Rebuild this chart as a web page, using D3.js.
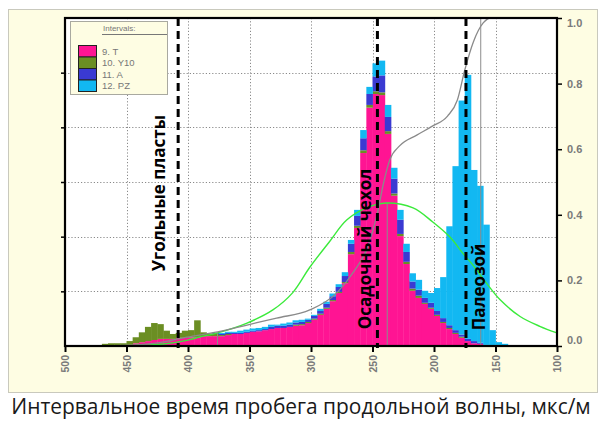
<!DOCTYPE html>
<html><head><meta charset="utf-8">
<script src="https://cdn.jsdelivr.net/npm/d3@7"></script>
<style>body{margin:0;background:#fff}svg{display:block}</style>
</head><body>
<svg id="c" width="601" height="421"></svg>
<script>
// ---------- DATA ----------
const binWidth = 5;
const binStart = [465,460,455,450,445,440,435,430,425,420,415,410,405,400,395,390,385,380,375,370,365,360,355,350,345,340,335,330,325,320,315,310,305,300,295,290,285,280,275,270,265,260,255,250,245,240,235,230,225,220,215,210,205,200,195,190,185,180,175,170,165,160,155,150,145,140];
const seriesNames = ["9. T","10. Y10","11. A","12. PZ"];
const pinkT   = [0,0,0,0,2,5,7,9,11,13, 13,13,15,15,16,16,18,18,18,18, 20,22,22,24,26,27,29,31,33,33, 35,37,38,42,48,57,68,82,97,115, 168,216,353,436,461,459,388,275,201,150, 101,88,77,68,55,42,31,22,15,9, 5,4,0,0,0,0];
const oliveY10= [4,5,5,5,7,11,18,26,31,27, 15,9,9,13,13,31,7,5,4,2, 2,0,0,0,0,0,0,0,0,0, 0,2,2,2,2,2,2,2,2,2, 4,4,5,5,5,5,5,4,4,4, 4,4,2,2,2,2,2,2,2,0, 0,0,0,0,0,0];
const blueA   = [0,0,0,0,0,0,0,0,0,0, 0,0,0,0,0,0,0,0,2,2, 2,2,2,2,2,2,2,4,4,4, 4,4,4,4,5,5,7,7,9,11, 15,18,22,20,27,31,26,27,26,18, 13,11,9,9,7,7,5,5,4,4, 4,2,2,0,0,0];
const cyanPZ  = [0,0,0,0,0,0,0,0,0,0, 0,0,0,0,0,0,0,0,0,2, 2,2,4,4,4,4,4,4,2,4, 4,4,4,2,2,4,4,5,5,7, 7,11,15,13,24,27,22,20,18,15, 15,18,13,18,42,75,181,300,428,483, 313,287,220,29,7,4];

const fitV = [460,440,420,400,390,376,352,331,315,301,285,271,255,239,217,201,187,176,168,157,146,130,114,100];
const fitP = [0.000,0.002,0.006,0.018,0.028,0.040,0.070,0.110,0.162,0.240,0.318,0.384,0.421,0.436,0.421,0.378,0.332,0.280,0.245,0.190,0.140,0.090,0.060,0.040];
const cumV = [470,440,423,401,376,352,328,301,279,266,254,246,241,236,228,214,201,189,181,175,168,160,154,100];
const cumP = [0.000,0.004,0.010,0.027,0.043,0.064,0.085,0.110,0.162,0.223,0.302,0.405,0.497,0.567,0.610,0.643,0.671,0.701,0.750,0.841,0.927,0.985,1.000,1.000];
const markerV = [376,238,162];
const markerP = [0.040,0.436,1.0];
const zoneV = [408,246,174];
const zoneNames = ["Угольные пласты","Осадочный чехол","Палеозой"];
const xTickValues = [500,450,400,350,300,250,200,150,100];
const rightTicks = [0,0.2,0.4,0.6,0.8,1.0];
const leftTicks = [100,200,300,400,500];
const xTitle = "Интервальное время пробега продольной волны, мкс/м";

// ---------- LAYOUT ----------
const M = {l:65, r:557, t:18, b:346};
const colors = ["#FF1493","#6B8E23","#3A3AD2","#12B8F2"];
const svg = d3.select("#c");
const x = d3.scaleLinear().domain([500,100]).range([M.l,M.r]);
const yL = d3.scaleLinear().domain([0,600]).range([M.b,M.t]);
const yR = d3.scaleLinear().domain([0,1]).range([M.b,M.t]);

// panel
svg.append("rect").attr("x",8.5).attr("y",9.5).attr("width",589).attr("height",383)
  .attr("fill","#FEFDE3").attr("stroke","#c9c9bd");
svg.append("rect").attr("x",M.l).attr("y",M.t).attr("width",M.r-M.l).attr("height",M.b-M.t).attr("fill","#fff");

// grid
const grid = svg.append("g").attr("stroke","#8a8a8a").attr("stroke-dasharray","1.2,2").attr("stroke-width",1);
grid.selectAll("line.v").data(xTickValues.filter(d=>d<500&&d>100)).join("line")
  .attr("x1",d=>Math.round(x(d))+0.5).attr("x2",d=>Math.round(x(d))+0.5).attr("y1",M.t).attr("y2",M.b);
grid.selectAll("line.h").data(leftTicks).join("line")
  .attr("y1",d=>Math.round(yL(d))+0.5).attr("y2",d=>Math.round(yL(d))+0.5).attr("x1",M.l).attr("x2",M.r);

// bars
const keys = ["T","Y10","A","PZ"];
const rows = binStart.map((v,i)=>({v, T:pinkT[i], Y10:oliveY10[i], A:blueA[i], PZ:cyanPZ[i]}));
const stacked = d3.stack().keys(keys)(rows);
svg.append("g").selectAll("g").data(stacked).join("g")
  .attr("fill",(d,i)=>colors[i])
  .selectAll("rect").data(d=>d.filter(s=>s[1]>s[0])).join("rect")
  .attr("x",d=>x(d.data.v+binWidth))
  .attr("width",d=>x(d.data.v)-x(d.data.v+binWidth)+0.4)
  .attr("y",d=>yL(d[1]))
  .attr("height",d=>yL(d[0])-yL(d[1]));

// marker lines
svg.append("g").selectAll("line").data(markerV).join("line")
  .attr("x1",d=>x(d)).attr("x2",d=>x(d)).attr("y1",M.b).attr("y2",(d,i)=>yR(markerP[i]))
  .attr("stroke","#8c8c8c").attr("stroke-width",1);

// fit curve
svg.append("path").datum(fitV.map((v,i)=>[v,fitP[i]]))
  .attr("d",d3.line().x(d=>x(d[0])).y(d=>yR(d[1])).curve(d3.curveCatmullRom))
  .attr("fill","none").attr("stroke","#3BEA3B").attr("stroke-width",1.4);
// cumulative
svg.append("path").datum(cumV.map((v,i)=>[v,cumP[i]]))
  .attr("d",d3.line().x(d=>x(d[0])).y(d=>yR(d[1])).curve(d3.curveMonotoneX))
  .attr("fill","none").attr("stroke","#8a8a8a").attr("stroke-width",1.3);

// zone dashed lines
svg.append("g").selectAll("line").data(zoneV).join("line")
  .attr("x1",d=>x(d)).attr("x2",d=>x(d)).attr("y1",M.t).attr("y2",M.b+2)
  .attr("stroke","#000").attr("stroke-width",3).attr("stroke-dasharray","8,5");

// zone labels (rotated)
const zoneLab = [{v:423.5,y:193},{v:256,y:249},{v:163.4,y:287}];
svg.append("g").selectAll("text").data(zoneNames).join("text")
  .attr("transform",(d,i)=>`translate(${x(zoneLab[i].v)},${zoneLab[i].y}) rotate(-90)`)
  .attr("text-anchor","middle").attr("dy","0.35em")
  .attr("font-family","'Open Sans', 'Noto Sans', sans-serif").attr("font-weight","bold")
  .attr("font-size",17).attr("fill","#000").text(d=>d);

// axes
const axB = svg.append("g").attr("transform",`translate(0,${M.b})`)
  .call(d3.axisBottom(x).tickValues(xTickValues).tickSize(6).tickFormat(d3.format("d")));
axB.select(".domain").remove();
axB.selectAll(".tick line").attr("stroke","#000").attr("stroke-width",2);
axB.selectAll(".tick text").attr("transform","rotate(-90)").attr("text-anchor","end")
  .attr("x",-9).attr("y",0).attr("dy","0.35em")
  .attr("font-family","'Liberation Sans', Arial, sans-serif").attr("font-size",10.5).attr("font-weight","bold").attr("fill","#7a7a7a");

const axL = svg.append("g").attr("transform",`translate(${M.l},0)`)
  .call(d3.axisLeft(yL).tickValues(leftTicks).tickSize(4).tickFormat(""));
axL.select(".domain").remove();
axL.selectAll(".tick line").attr("stroke","#000").attr("stroke-width",1.5);

const axR = svg.append("g").attr("transform",`translate(${M.r},0)`)
  .call(d3.axisRight(yR).tickValues(rightTicks).tickSize(5).tickFormat(d3.format(".1f")));
axR.select(".domain").remove();
axR.selectAll(".tick line").attr("stroke","#000").attr("stroke-width",1.5);
axR.selectAll(".tick text").attr("x",10)
  .attr("font-family","'Liberation Sans', Arial, sans-serif").attr("font-size",11).attr("font-weight","bold").attr("fill","#7a7a7a")
  .attr("dy",d=>d===0?"-0.25em":(d===1?"0.75em":"0.32em"));

// frame
svg.append("rect").attr("x",M.l).attr("y",M.t).attr("width",M.r-M.l).attr("height",M.b-M.t)
  .attr("fill","none").attr("stroke","#000").attr("stroke-width",2.2);

// legend
const lg = svg.append("g");
lg.append("rect").attr("x",70.5).attr("y",21.5).attr("width",97).attr("height",73)
  .attr("fill","#FEFDE3").attr("stroke","#a9a9a0");
lg.append("text").attr("x",103).attr("y",31).attr("font-family","'Liberation Sans', Arial, sans-serif")
  .attr("font-size",8).attr("fill","#777").text("Intervals:");
lg.append("line").attr("x1",102).attr("x2",167).attr("y1",34.5).attr("y2",34.5).attr("stroke","#777");
seriesNames.forEach((n,i)=>{
  lg.append("rect").attr("x",78.5).attr("y",45.5+i*11.5).attr("width",18).attr("height",11.5)
    .attr("fill",colors[i]).attr("stroke","#222").attr("stroke-width",1);
  lg.append("text").attr("x",102).attr("y",51.3+i*11.5).attr("dy","0.35em")
    .attr("font-family","'Liberation Sans', Arial, sans-serif").attr("font-size",9.5).attr("fill","#777").text(n);
});

// title
const tt = svg.append("text").attr("x",301).attr("y",414).attr("text-anchor","middle")
  .attr("font-family","'Open Sans', 'Noto Sans', sans-serif").attr("font-size",20).attr("fill","#1a1a1a").text(xTitle);
const tl = tt.node().getComputedTextLength();
tt.attr("font-size",20*580/tl);
</script>
</body></html>
